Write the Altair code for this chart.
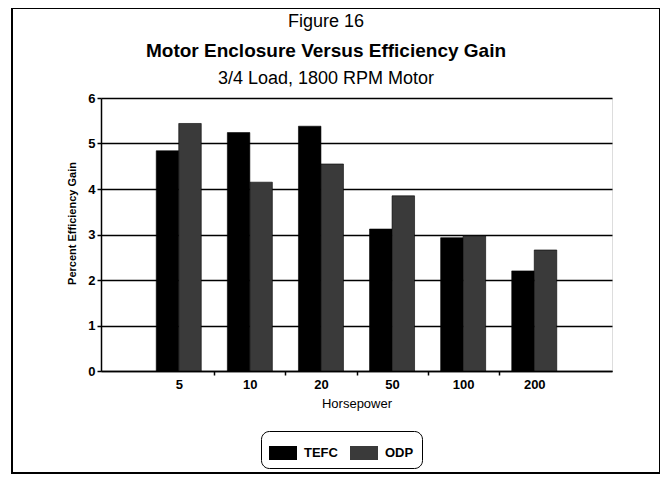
import altair as alt
import pandas as pd

# ---- data ----
horsepower = ["5", "10", "20", "50", "100", "200"]
tefc = [4.84, 5.24, 5.38, 3.12, 2.93, 2.20]
odp = [5.44, 4.15, 4.55, 3.85, 2.97, 2.66]
enclosures = ["TEFC", "ODP"]
y_ticks = [0, 1, 2, 3, 4, 5, 6]
title_lines = ["Figure 16", "Motor Enclosure Versus Efficiency Gain", "3/4 Load, 1800 RPM Motor"]

rows = []
for hp, t, o in zip(horsepower, tefc, odp):
    rows.append({"Horsepower": hp, "Enclosure": "TEFC", "Gain": t})
    rows.append({"Horsepower": hp, "Enclosure": "ODP", "Gain": o})
df = pd.DataFrame(rows)

FONT = "Liberation Sans Narrow, Arial Narrow, Liberation Sans, Arial"
FONT_W = "Liberation Sans, Arial"

W, H = 511, 273
step = W / (6 - 0.367 + 2 * 0.777)

bars = alt.Chart(df).mark_bar(stroke="black", strokeWidth=0.6).encode(
    x=alt.X(
        "Horsepower:N",
        sort=horsepower,
        scale=alt.Scale(paddingInner=0.367, paddingOuter=0.777),
        axis=alt.Axis(
            title="Horsepower",
            labelAngle=0,
            tickOffset=-step / 2,
            labelOffset=step / 2,
            tickSize=4,
            tickColor="black",
            tickWidth=1.5,
            tickOpacity={"condition": {"test": "datum.label == '5'", "value": 0}, "value": 1},
            domainColor="black",
            domainWidth=1.5,
            labelFont=FONT,
            labelFontSize=13,
            labelFontWeight="bold",
            labelColor="black",
            labelPadding=3,
            titleFont=FONT,
            titleFontSize=13,
            titleFontWeight="normal",
            titleColor="black",
            titlePadding=6,
            grid=False,
        ),
    ),
    xOffset=alt.XOffset("Enclosure:N", sort=enclosures,
                        scale=alt.Scale(paddingInner=0, paddingOuter=0)),
    y=alt.Y(
        "Gain:Q",
        scale=alt.Scale(domain=[0, 6], nice=False),
        axis=alt.Axis(
            title="Percent Efficiency Gain",
            values=y_ticks,
            format="d",
            grid=True,
            gridColor="black",
            gridWidth=1.3,
            gridOpacity=1,
            tickSize=4,
            tickColor="black",
            tickWidth=1.5,
            domainColor="black",
            domainWidth=1.5,
            labelFont=FONT,
            labelFontSize=13,
            labelFontWeight="bold",
            labelColor="black",
            labelPadding=2,
            titleFont=FONT,
            titleFontSize=11,
            titleFontWeight="bold",
            titleColor="black",
            titlePadding=10,
            titleY=125,
        ),
    ),
    color=alt.Color(
        "Enclosure:N",
        sort=enclosures,
        scale=alt.Scale(domain=enclosures, range=["#000000", "#3a3a3a"]),
        legend=alt.Legend(
            title=None,
            orient="none",
            legendX=160,
            legendY=333,
            direction="horizontal",
            strokeColor="black",
            cornerRadius=8,
            padding=8,
            symbolType="M-1,-0.5H1V0.5H-1Z",
            symbolSize=784,
            symbolStrokeWidth=0,
            symbolOpacity=1,
            labelFont=FONT,
            labelFontSize=13,
            labelFontWeight="bold",
            labelColor="black",
            labelOffset=7,
            columnPadding=12,
        ),
    ),
)

title_df = pd.DataFrame({
    "t": title_lines,
    "row": [0, 1, 2],
})

def title_line(i, size, weight, yv):
    return alt.Chart(title_df).transform_filter(f"datum.row == {i}").mark_text(
        font=FONT_W, fontSize=size, fontWeight=weight, color="black",
        baseline="middle", align="center"
    ).encode(text="t:N", x=alt.value(225), y=alt.value(yv))

t0 = title_line(0, 18, "normal", -76)
t1 = title_line(1, 19, "bold", -47)
t2 = title_line(2, 18, "normal", -19)

frame = alt.Chart(title_df.head(1)).mark_rect(
    filled=False, stroke="black", strokeWidth=2
).encode(x=alt.value(-89), x2=alt.value(559), y=alt.value(-90), y2=alt.value(375))

chart = alt.layer(frame, bars, t0, t1, t2).properties(
    width=W,
    height=H,
    autosize=alt.AutoSizeParams(type="none"),
    padding={"left": 93, "top": 90, "right": 48, "bottom": 104},
).configure_view(
    stroke="black", strokeWidth=1.5
).configure_legend(
    strokeWidth=1.5
).configure(background="white")

chart.save("out.html", embed_options={"renderer": "svg", "actions": False})
